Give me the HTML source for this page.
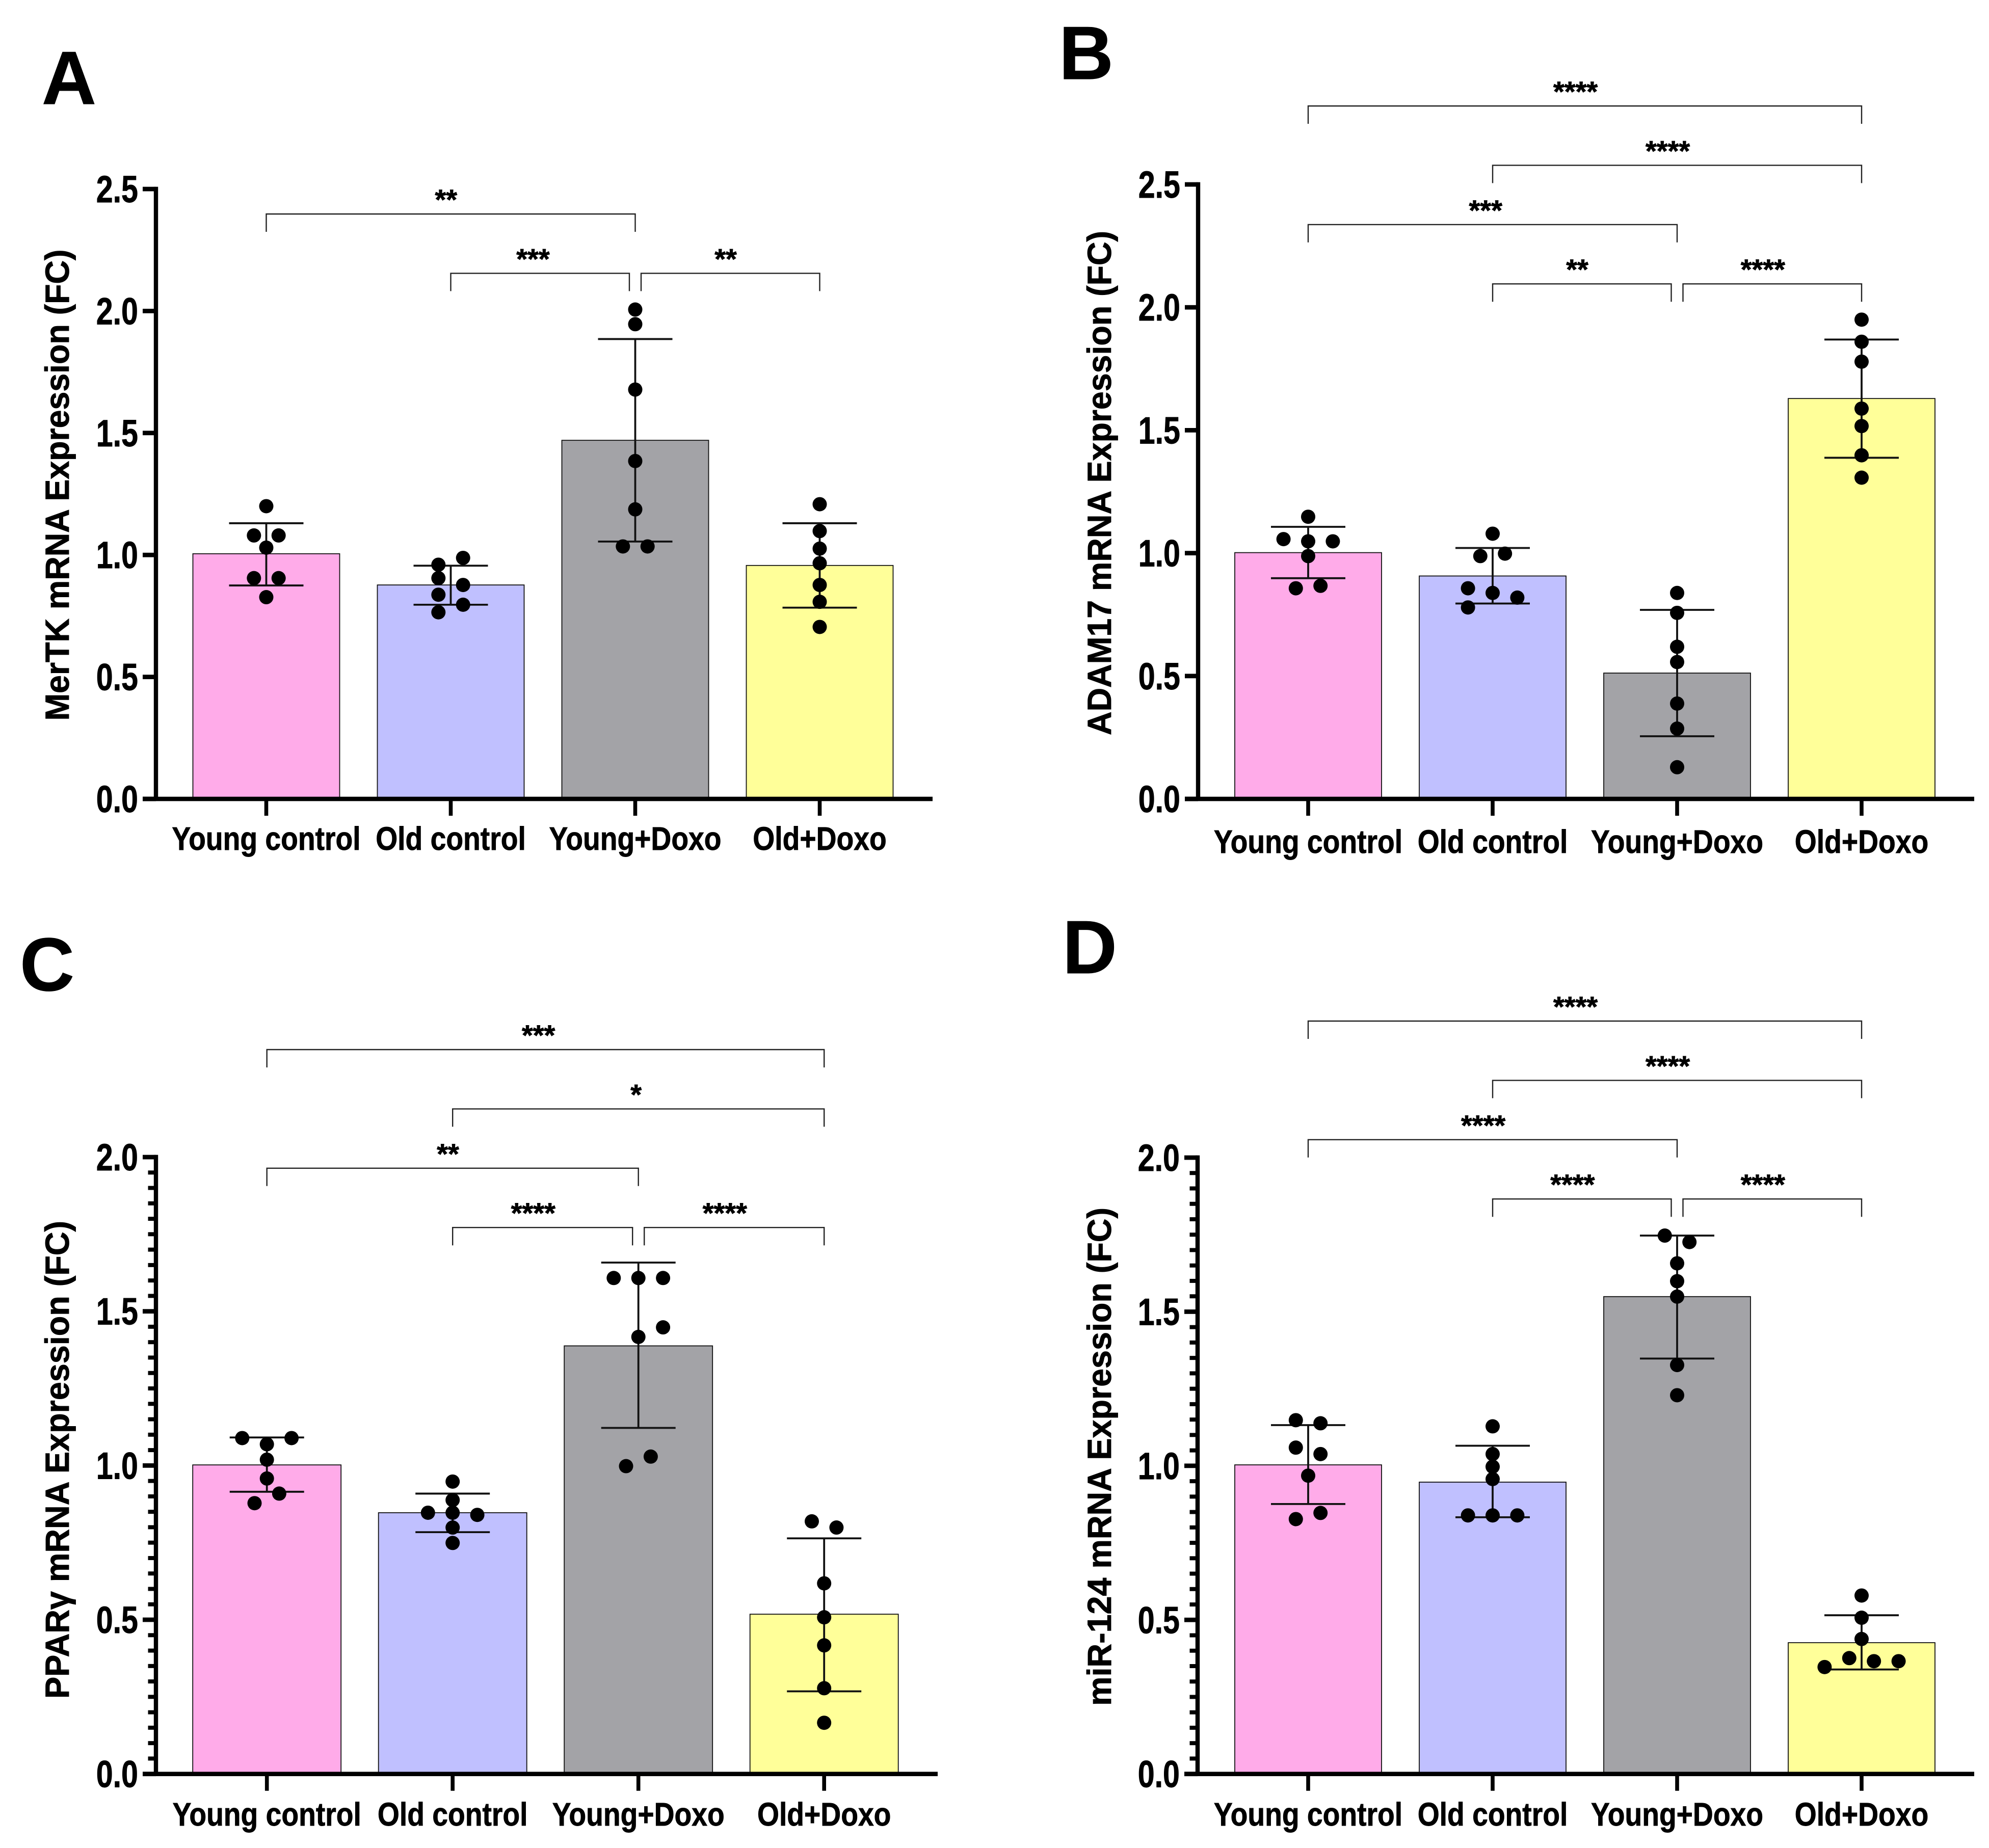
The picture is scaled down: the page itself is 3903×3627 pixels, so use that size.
<!DOCTYPE html>
<html lang="en">
<head>
<meta charset="utf-8">
<title>mRNA expression bar charts</title>
<style>
html,body{margin:0;padding:0;background:#fff;}
svg{display:block;}
text{font-family:"Liberation Sans",Arial,sans-serif;font-weight:bold;fill:#000;stroke:#000;stroke-width:0.9px;}
</style>
</head>
<body>
<svg id="figure" xmlns="http://www.w3.org/2000/svg" width="3903" height="3627" viewBox="0 0 3903 3627">
  <rect x="0" y="0" width="3903" height="3627" fill="#fff"/>

  <g id="panel-a">
    <text x="82" y="204" font-size="148">A</text>
    <text transform="translate(135,952) rotate(-90)" text-anchor="middle" font-size="66" textLength="925" lengthAdjust="spacingAndGlyphs">MerTK mRNA Expression (FC)</text>
  </g>
  <g id="panel-b">
    <text x="2078" y="155" font-size="148">B</text>
    <text transform="translate(2180,948) rotate(-90)" text-anchor="middle" font-size="66" textLength="990" lengthAdjust="spacingAndGlyphs">ADAM17 mRNA Expression (FC)</text>
  </g>
  <g id="panel-c">
    <text x="39" y="1944" font-size="148">C</text>
    <text transform="translate(135,2865) rotate(-90)" text-anchor="middle" font-size="66" textLength="938" lengthAdjust="spacingAndGlyphs">PPARγ mRNA Expression (FC)</text>
  </g>
  <g id="panel-d">
    <text x="2085" y="1910" font-size="148">D</text>
    <text transform="translate(2180,2859) rotate(-90)" text-anchor="middle" font-size="66" textLength="978" lengthAdjust="spacingAndGlyphs">miR-124 mRNA Expression (FC)</text>
  </g>
</svg>

<script>
/* ---------- shared data ---------- */
const categories = ['Young control', 'Old control', 'Young+Doxo', 'Old+Doxo'];
const barColors = ['#FFABE9', '#C0C0FF', '#A3A3A7', '#FFFF99'];
const yTickLabelsAB = ['0.0', '0.5', '1.0', '1.5', '2.0', '2.5'];
const yTickLabelsCD = ['0.0', '0.5', '1.0', '1.5', '2.0'];

/* ---------- panel A ---------- */
const meansA = [1.005, 0.877, 1.47, 0.957];
const errHighA = [1.13, 0.956, 1.885, 1.13];
const errLowA = [0.875, 0.796, 1.055, 0.784];
const dotsA = [
  [1.2, 1.08, 1.08, 1.03, 0.905, 0.905, 0.827],
  [0.988, 0.96, 0.905, 0.877, 0.837, 0.796, 0.765],
  [2.006, 1.946, 1.678, 1.385, 1.187, 1.035, 1.035],
  [1.208, 1.098, 1.026, 0.966, 0.877, 0.808, 0.705]
];
const slotsA = [
  [0, -1, 1, 0, -1, 1, 0],
  [1, -1, -1, 1, -1, 1, -1],
  [0, 0, 0, 0, 0, -1, 1],
  [0, 0, 0, 0, 0, 0, 0]
];
const bracketFromA = [0, 1, 2];
const bracketToA = [2, 2, 3];
const bracketTierA = [0, 1, 1];
const bracketStarsA = ['**', '***', '**'];

/* ---------- panel B ---------- */
const meansB = [1.002, 0.907, 0.512, 1.629];
const errHighB = [1.107, 1.021, 0.769, 1.869];
const errLowB = [0.898, 0.795, 0.255, 1.388];
const dotsB = [
  [1.148, 1.057, 1.048, 1.048, 0.988, 0.867, 0.857],
  [1.079, 0.988, 0.998, 0.857, 0.838, 0.819, 0.779],
  [0.838, 0.757, 0.619, 0.557, 0.388, 0.286, 0.129],
  [1.95, 1.86, 1.779, 1.588, 1.517, 1.398, 1.307]
];
const slotsB = [
  [0, -2, 0, 2, 0, 1, -1],
  [0, -1, 1, -2, 0, 2, -2],
  [0, 0, 0, 0, 0, 0, 0],
  [0, 0, 0, 0, 0, 0, 0]
];
const bracketFromB = [0, 1, 0, 1, 2];
const bracketToB = [3, 3, 2, 2, 3];
const bracketTierB = [0, 1, 2, 3, 3];
const bracketStarsB = ['****', '****', '***', '**', '****'];

/* ---------- panel C ---------- */
const meansC = [1.002, 0.847, 1.388, 0.518];
const errHighC = [1.091, 0.909, 1.658, 0.764];
const errLowC = [0.915, 0.784, 1.122, 0.268];
const dotsC = [
  [1.089, 1.089, 1.069, 1.019, 0.958, 0.909, 0.878],
  [0.948, 0.888, 0.847, 0.847, 0.84, 0.799, 0.749],
  [1.608, 1.608, 1.608, 1.448, 1.417, 1.029, 0.998],
  [0.819, 0.799, 0.618, 0.508, 0.417, 0.278, 0.166]
];
const slotsC = [
  [-2, 2, 0, 0, 0, 1, -1],
  [0, 0, -2, 0, 2, 0, 0],
  [-2, 0, 2, 2, 0, 1, -1],
  [-1, 1, 0, 0, 0, 0, 0]
];
const bracketFromC = [0, 1, 0, 1, 2];
const bracketToC = [3, 3, 2, 2, 3];
const bracketTierC = [0, 1, 2, 3, 3];
const bracketStarsC = ['***', '*', '**', '****', '****'];

/* ---------- panel D ---------- */
const meansD = [1.003, 0.947, 1.549, 0.426];
const errHighD = [1.132, 1.065, 1.747, 0.515];
const errLowD = [0.876, 0.833, 1.348, 0.339];
const dotsD = [
  [1.148, 1.138, 1.059, 1.038, 0.968, 0.847, 0.827],
  [1.128, 1.038, 0.997, 0.957, 0.839, 0.839, 0.839],
  [1.747, 1.726, 1.657, 1.599, 1.549, 1.327, 1.229],
  [0.579, 0.507, 0.438, 0.376, 0.366, 0.366, 0.347]
];
const slotsD = [
  [-1, 1, -1, 1, 0, 1, -1],
  [0, 0, 0, 0, -2, 0, 2],
  [-1, 1, 0, 0, 0, 0, 0],
  [0, 0, 0, -1, 1, 3, -3]
];
const bracketFromD = [0, 1, 0, 1, 2];
const bracketToD = [3, 3, 2, 2, 3];
const bracketTierD = [0, 1, 2, 3, 3];
const bracketStarsD = ['****', '****', '****', '****', '****'];

/* ---------- drawing ---------- */
const SVGNS = 'http://www.w3.org/2000/svg';

function shape(parent, tag, attrs) {
  const el = document.createElementNS(SVGNS, tag);
  for (const k in attrs) { el.setAttribute(k, attrs[k]); }
  parent.appendChild(el);
  return el;
}

function condense(el, factor) {
  const natural = el.getComputedTextLength();
  el.setAttribute('textLength', (natural * factor).toFixed(1));
  el.setAttribute('lengthAdjust', 'spacingAndGlyphs');
}

function drawPanel(p) {
  const root = document.getElementById(p.id);
  const yMax = parseFloat(p.yTicks[p.yTicks.length - 1]);
  const yScale = v => p.y0 - (v / yMax) * (p.y0 - p.yTop);
  const xScale = i => p.x0 + i * p.xStep;
  const slotWidth = 24.2;

  /* bars */
  p.means.forEach((m, i) => {
    const bar = shape(root, 'rect', {
      x: xScale(i) - p.barWidth / 2, y: yScale(m),
      width: p.barWidth, height: p.y0 - yScale(m),
      fill: barColors[i], stroke: '#111', 'stroke-width': 1.8
    });
    
    
  });

  /* error bars */
  p.means.forEach((m, i) => {
    const cx = xScale(i);
    const stem = shape(root, 'line', {
      x1: cx, x2: cx, y1: yScale(p.errHigh[i]), y2: yScale(p.errLow[i]),
      stroke: '#111', 'stroke-width': 3.8
    });
    
    
    const capHigh = shape(root, 'line', {
      x1: cx - 73, x2: cx + 73, y1: yScale(p.errHigh[i]), y2: yScale(p.errHigh[i]),
      stroke: '#111', 'stroke-width': 3.8
    });
    
    
    const capLow = shape(root, 'line', {
      x1: cx - 73, x2: cx + 73, y1: yScale(p.errLow[i]), y2: yScale(p.errLow[i]),
      stroke: '#111', 'stroke-width': 3.8
    });
    
    
  });

  /* data points */
  p.dots.forEach((group, i) => {
    group.forEach((v, j) => {
      const dot = shape(root, 'circle', {
        cx: xScale(i) + p.slots[i][j] * slotWidth, cy: yScale(v), r: 14, fill: '#000'
      });
      
      
    });
  });

  /* y axis line + ticks */
  const yAxis = shape(root, 'rect', {
    x: p.axisX - 4.2, y: p.yTop - 4.4, width: 8.4, height: p.y0 - p.yTop + 8.4, fill: '#000'
  });
  
  

  p.yTicks.forEach(label => {
    const v = parseFloat(label);
    const tick = shape(root, 'rect', {
      x: p.axisX - 26, y: yScale(v) - 4.4, width: 26, height: 8.8, fill: '#000'
    });
    
    
    const tx = shape(root, 'text', {
      x: p.axisX - 35, y: yScale(v) + 26, 'text-anchor': 'end', 'font-size': 74
    });
    tx.textContent = label;
    
    
    condense(tx, 0.80);
  });

  if (p.minorStep) {
    for (let k = 1; k * p.minorStep < yMax - 1e-6; k++) {
      if (k % 10 === 0) continue;
      const minor = shape(root, 'rect', {
        x: p.axisX - 15.5, y: yScale(k * p.minorStep) - 4, width: 15.5, height: 8, fill: '#000'
      });
      
      
    }
  }

  /* x axis line + ticks + labels */
  const xAxis = shape(root, 'rect', {
    x: p.axisX - 26, y: p.y0 - 4.3, width: p.xEnd - p.axisX + 26, height: 8.6, fill: '#000'
  });
  
  

  categories.forEach((name, i) => {
    const tick = shape(root, 'rect', {
      x: xScale(i) - 3.8, y: p.y0, width: 7.6, height: 33, fill: '#000'
    });
    
    
    const tx = shape(root, 'text', {
      x: xScale(i), y: p.xLabelY, 'text-anchor': 'middle', 'font-size': 64
    });
    tx.textContent = name;
    
    
    condense(tx, 0.863);
  });

  /* significance brackets */
  p.bracketFrom.forEach((from, b) => {
    const to = p.bracketTo[b];
    const tier = p.bracketTier[b];
    const yb = p.bracketTop + tier * 116.4;
    let x1 = xScale(from);
    let x2 = xScale(to);
    const sharesRight = p.bracketFrom.some((f, o) => f === to && p.bracketTier[o] === tier);
    const sharesLeft = p.bracketTo.some((t, o) => t === from && p.bracketTier[o] === tier);
    if (sharesRight) x2 -= 11.5;
    if (sharesLeft) x1 += 11.5;
    const br = shape(root, 'path', {
      d: 'M' + x1 + ' ' + (yb + 35) + 'V' + yb + 'H' + x2 + 'V' + (yb + 35),
      fill: 'none', stroke: '#222', 'stroke-width': 2.4
    });
    
    
    const stars = p.bracketStars[b];
    const st = shape(root, 'text', {
      x: (x1 + x2) / 2 - stars.length * 4.6, y: yb - 9,
      'text-anchor': 'middle', 'font-size': 56
    });
    st.textContent = stars;
    
    
  });
}

const panelA = { id: 'panel-a', means: meansA, errHigh: errHighA, errLow: errLowA, dots: dotsA, slots: slotsA,
  bracketFrom: bracketFromA, bracketTo: bracketToA, bracketTier: bracketTierA, bracketStars: bracketStarsA,
  yTicks: yTickLabelsAB, minorStep: 0, axisX: 306, y0: 1568, yTop: 371, x0: 522.5, xStep: 362, xEnd: 1830,
  barWidth: 288, xLabelY: 1668, bracketTop: 420 };
const panelB = { id: 'panel-b', means: meansB, errHigh: errHighB, errLow: errLowB, dots: dotsB, slots: slotsB,
  bracketFrom: bracketFromB, bracketTo: bracketToB, bracketTier: bracketTierB, bracketStars: bracketStarsB,
  yTicks: yTickLabelsAB, minorStep: 0, axisX: 2351, y0: 1568, yTop: 362, x0: 2567, xStep: 362, xEnd: 3874,
  barWidth: 288, xLabelY: 1674, bracketTop: 208 };
const panelC = { id: 'panel-c', means: meansC, errHigh: errHighC, errLow: errLowC, dots: dotsC, slots: slotsC,
  bracketFrom: bracketFromC, bracketTo: bracketToC, bracketTier: bracketTierC, bracketStars: bracketStarsC,
  yTicks: yTickLabelsCD, minorStep: 0.05, axisX: 306, y0: 3481.7, yTop: 2271, x0: 523.7, xStep: 364.5, xEnd: 1840,
  barWidth: 291, xLabelY: 3583, bracketTop: 2060 };
const panelD = { id: 'panel-d', means: meansD, errHigh: errHighD, errLow: errLowD, dots: dotsD, slots: slotsD,
  bracketFrom: bracketFromD, bracketTo: bracketToD, bracketTier: bracketTierD, bracketStars: bracketStarsD,
  yTicks: yTickLabelsCD, minorStep: 0.05, axisX: 2350, y0: 3481.7, yTop: 2272, x0: 2567, xStep: 362, xEnd: 3874,
  barWidth: 288, xLabelY: 3583, bracketTop: 2004 };

[panelA, panelB, panelC, panelD].forEach(drawPanel);
</script>
</body>
</html>
